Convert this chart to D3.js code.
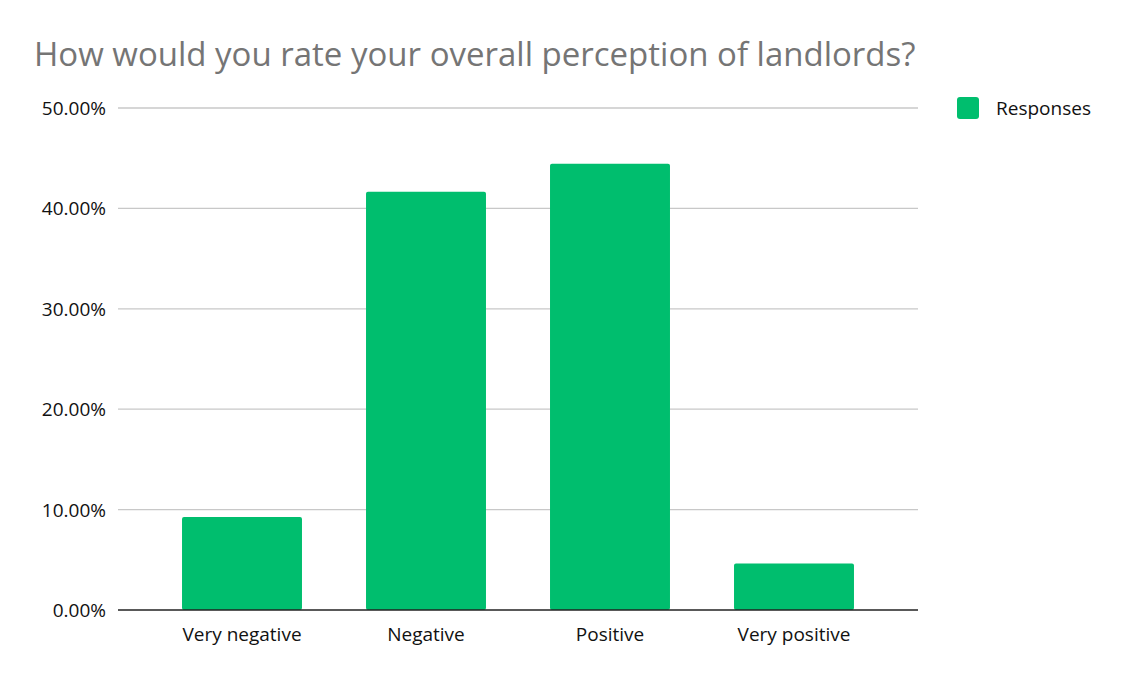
<!DOCTYPE html>
<html>
<meta charset="utf-8">
<script src="https://d3js.org/d3.v7.min.js"></script>
<style>
  body { margin: 0; background: #fff; }
  text { font-family: "Open Sans", "Liberation Sans", sans-serif; }
</style>
<body>
<svg id="chart" width="1132" height="680"></svg>
<script>
var categories = ["Very negative", "Negative", "Positive", "Very positive"];
var responses = [9.26, 41.67, 44.44, 4.63];
var yTicks = [0, 10, 20, 30, 40, 50];

var svg = d3.select("#chart");
var green = "#00be6e";

svg.append("text")
  .attr("x", 34).attr("y", 66)
  .style("font-size", "33px").style("fill", "#757575")
  .text("How would you rate your overall perception of landlords?");

var x = d3.scaleBand().domain(categories).range([150, 886])
  .paddingInner(0.348).paddingOuter(0.174);
var y = d3.scaleLinear().domain([0, 50]).range([610, 108]);

// gridlines
svg.append("g").selectAll("line").data(yTicks.slice(1)).enter().append("line")
  .attr("x1", 118).attr("x2", 918)
  .attr("y1", d => y(d)).attr("y2", d => y(d))
  .style("stroke", "#c8c8c8").style("stroke-width", 1.3);

svg.append("g").selectAll("text").data(yTicks).enter().append("text")
  .attr("x", 106).attr("y", d => y(d) + 7)
  .attr("text-anchor", "end")
  .style("font-size", "19px").style("fill", "#111")
  .text(d => d.toFixed(2) + "%");

svg.append("g").selectAll("rect").data(responses).enter().append("rect")
  .attr("x", (d, i) => x(categories[i]))
  .attr("width", x.bandwidth())
  .attr("y", d => y(d))
  .attr("height", d => y(0) - y(d))
  .attr("rx", 2)
  .style("fill", green);

svg.append("line")
  .attr("x1", 118).attr("x2", 918).attr("y1", y(0)).attr("y2", y(0))
  .style("stroke", "#222").style("stroke-width", 1.5);

svg.append("g").selectAll("text").data(categories).enter().append("text")
  .attr("x", d => x(d) + x.bandwidth() / 2).attr("y", 641)
  .attr("text-anchor", "middle")
  .style("font-size", "19px").style("fill", "#111")
  .text(d => d);

// legend
svg.append("rect").attr("x", 957).attr("y", 97).attr("width", 22).attr("height", 22)
  .attr("rx", 3).style("fill", green);
svg.append("text").attr("x", 996).attr("y", 115)
  .style("font-size", "19px").style("fill", "#111").text("Responses");
</script>
</body>
</html>
